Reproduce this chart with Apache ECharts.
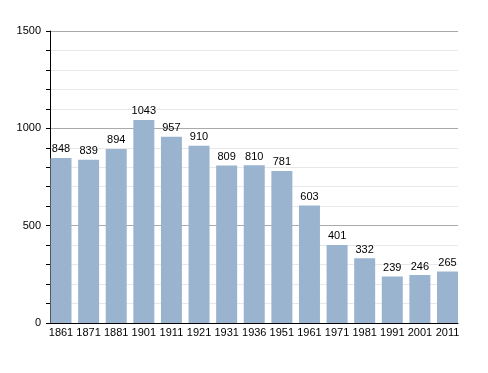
<!DOCTYPE html>
<html><head><meta charset="utf-8">
<script src="https://cdn.jsdelivr.net/npm/echarts@6/dist/echarts.min.js"></script>
<style>html,body{margin:0;padding:0;background:#fff}#c{width:488px;height:373px}</style>
</head><body><div id="c"></div>
<script>
const years = ['1861','1871','1881','1901','1911','1921','1931','1936','1951','1961','1971','1981','1991','2001','2011'];
const population = [848,839,894,1043,957,910,809,810,781,603,401,332,239,246,265];
const yTicks = [0,500,1000,1500];

const chart = echarts.init(document.getElementById('c'), null, {renderer:'canvas'});
chart.setOption({
  animation:false,
  backgroundColor:'#fff',
  textStyle:{fontFamily:'Liberation Sans, Arial, sans-serif'},
  grid:[
    {left:61,right:40.5,top:31,bottom:50,containLabel:false},
    {left:50,right:30,top:31,bottom:50,containLabel:false}
  ],
  xAxis:[{
    gridIndex:0, type:'category', data:years, boundaryGap:false,
    axisLine:{show:false},
    axisTick:{show:false},
    splitLine:{show:false},
    axisLabel:{color:'#000',fontSize:11,margin:4,interval:0}
  },{
    gridIndex:1, type:'value', min:0, max:1,
    axisLine:{show:true,lineStyle:{color:'#000',width:1}},
    axisTick:{show:false}, axisLabel:{show:false}, splitLine:{show:false}
  }],
  yAxis:[{
    gridIndex:0, type:'value', min:yTicks[0], max:yTicks[yTicks.length-1], interval:500,
    show:false, splitLine:{show:false}
  },{
    gridIndex:1, type:'value', min:yTicks[0], max:yTicks[yTicks.length-1], interval:500,
    axisLine:{show:true,lineStyle:{color:'#000',width:1}},
    axisTick:{show:true,length:4,lineStyle:{color:'#000'}},
    minorTick:{show:true,splitNumber:5,length:4,lineStyle:{color:'#000'}},
    splitLine:{lineStyle:{color:'#aaa',width:1}},
    minorSplitLine:{show:true,lineStyle:{color:'#e8e8e8',width:1}},
    axisLabel:{color:'#000',fontSize:11,margin:9,formatter:v=>String(v)}
  }],
  series:[{
    type:'bar', xAxisIndex:0, yAxisIndex:0, data:population,
    barWidth:21,
    itemStyle:{color:'#9ab4d0'},
    label:{show:true,position:'top',color:'#000',fontSize:11,distance:3}
  }]
});
</script></body></html>
